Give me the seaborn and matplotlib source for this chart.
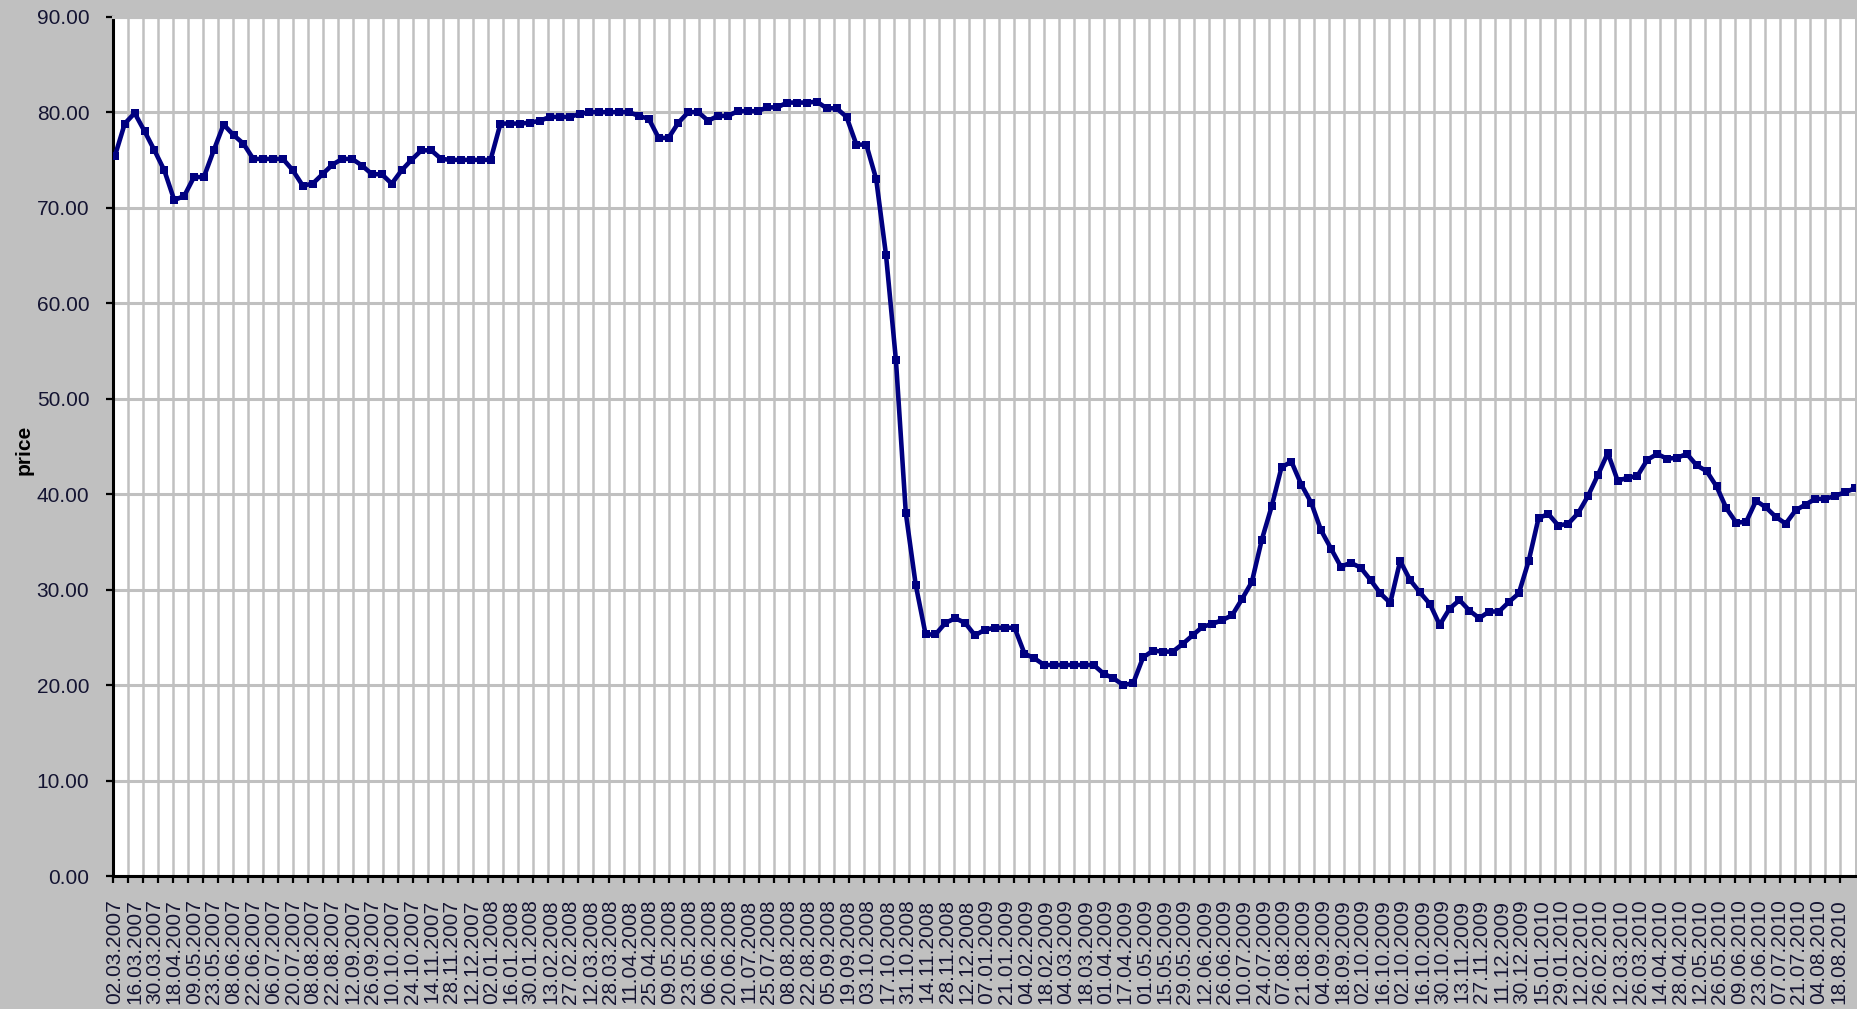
import numpy as np
import pandas as pd
import matplotlib
matplotlib.use("Agg")
import matplotlib.pyplot as plt
import seaborn as sns
from matplotlib.ticker import FixedLocator, FixedFormatter, FormatStrFormatter

# ---- category labels (shown every 2 samples) ----
date_labels = [
    "02.03.2007", "16.03.2007", "30.03.2007", "18.04.2007", "09.05.2007", "23.05.2007",
    "08.06.2007", "22.06.2007", "06.07.2007", "20.07.2007", "08.08.2007", "22.08.2007",
    "12.09.2007", "26.09.2007", "10.10.2007", "24.10.2007", "14.11.2007", "28.11.2007",
    "12.12.2007",
    "02.01.2008", "16.01.2008", "30.01.2008", "13.02.2008", "27.02.2008", "12.03.2008",
    "28.03.2008", "11.04.2008", "25.04.2008", "09.05.2008", "23.05.2008", "06.06.2008",
    "20.06.2008", "11.07.2008", "25.07.2008", "08.08.2008", "22.08.2008", "05.09.2008",
    "19.09.2008", "03.10.2008", "17.10.2008", "31.10.2008", "14.11.2008", "28.11.2008",
    "12.12.2008",
    "07.01.2009", "21.01.2009", "04.02.2009", "18.02.2009", "04.03.2009", "18.03.2009",
    "01.04.2009", "17.04.2009", "01.05.2009", "15.05.2009", "29.05.2009", "12.06.2009",
    "26.06.2009", "10.07.2009", "24.07.2009", "07.08.2009", "21.08.2009", "04.09.2009",
    "18.09.2009", "02.10.2009", "16.10.2009", "02.10.2009", "16.10.2009", "30.10.2009",
    "13.11.2009", "27.11.2009", "11.12.2009", "30.12.2009",
    "15.01.2010", "29.01.2010", "12.02.2010", "26.02.2010", "12.03.2010", "26.03.2010",
    "14.04.2010", "28.04.2010", "12.05.2010", "26.05.2010", "09.06.2010", "23.06.2010",
    "07.07.2010", "21.07.2010", "04.08.2010", "18.08.2010",
]

# ---- price series (two samples per label interval) ----
price = [
    75.4, 78.8, 79.9, 78.0, 76.0, 73.9, 70.8, 71.2, 73.2, 73.2,
    76.0, 78.7, 77.6, 76.7, 75.1, 75.1, 75.1, 75.1, 73.9, 72.3,
    72.5, 73.5, 74.5, 75.1, 75.1, 74.4, 73.5, 73.5, 72.5, 73.9,
    75.0, 76.0, 76.0, 75.1, 75.0, 75.0, 75.0, 75.0, 75.0, 78.8,
    78.8, 78.8, 78.9, 79.1, 79.5, 79.5, 79.5, 79.8, 80.0, 80.0,
    80.0, 80.0, 80.0, 79.6, 79.3, 77.3, 77.3, 78.9, 80.0, 80.0,
    79.1, 79.6, 79.6, 80.1, 80.1, 80.1, 80.5, 80.5, 81.0, 81.0,
    81.0, 81.1, 80.4, 80.4, 79.5, 76.6, 76.6, 73.0, 65.0, 54.0,
    38.0, 30.5, 25.3, 25.3, 26.5, 27.0, 26.5, 25.2, 25.8, 26.0,
    26.0, 26.0, 23.3, 22.8, 22.1, 22.1, 22.1, 22.1, 22.1, 22.1,
    21.2, 20.7, 20.0, 20.2, 22.9, 23.6, 23.5, 23.5, 24.3, 25.2,
    26.1, 26.4, 26.8, 27.3, 29.0, 30.8, 35.2, 38.7, 42.8, 43.4,
    41.0, 39.1, 36.2, 34.3, 32.4, 32.8, 32.3, 31.0, 29.6, 28.6,
    33.0, 31.0, 29.7, 28.5, 26.3, 28.0, 28.9, 27.8, 27.0, 27.7,
    27.7, 28.7, 29.6, 33.0, 37.5, 37.9, 36.7, 36.9, 38.0, 39.8,
    42.0, 44.3, 41.4, 41.7, 41.9, 43.6, 44.2, 43.7, 43.8, 44.2,
    43.0, 42.4, 40.8, 38.5, 37.0, 37.1, 39.3, 38.6, 37.6, 36.9,
    38.3, 38.9, 39.5, 39.5, 39.8, 40.2, 40.6,
]
samples_per_label = 2

y_ticks = [0, 10, 20, 30, 40, 50, 60, 70, 80, 90]

# ---- style ----
sns.set_theme(style="white")
plt.rcParams['font.family'] = ['Liberation Sans', 'DejaVu Sans']

bg = '#c0c0c0'
grid_c = '#c0c0c0'
line_c = '#000080'
text_c = '#141432'

fig = plt.figure(figsize=(18.57, 10.09), dpi=100, facecolor=bg)
ax = fig.add_axes([0.0608, 0.1318, 0.9381, 0.8517])
ax.set_facecolor('white')

df = pd.DataFrame({
    'pos': np.arange(len(price)) / samples_per_label,
    'price': price,
})
sns.lineplot(data=df, x='pos', y='price', ax=ax, color=line_c, linewidth=3.3,
             marker='s', markersize=5.4, markeredgewidth=0,
             markerfacecolor=line_c, zorder=5)

ax.set_xlim(-0.1, 88.0)
ax.set_ylim(0, 90)

# x axis: labels at category positions, tick marks/gridlines on a finer step
ax.xaxis.set_major_locator(FixedLocator(np.arange(len(date_labels)) * 1.002))
ax.xaxis.set_major_formatter(FixedFormatter(date_labels))
ax.xaxis.set_minor_locator(FixedLocator(np.arange(-0.1, 88.1, 0.7595)))
ax.tick_params(axis='x', which='major', length=0, pad=17, labelsize=15,
               labelrotation=90, labelcolor=text_c)
ax.tick_params(axis='x', which='minor', bottom=True, length=5, width=1.6,
               color='black', direction='out')

# y axis
ax.yaxis.set_major_locator(FixedLocator(y_ticks))
ax.yaxis.set_major_formatter(FormatStrFormatter('%.2f'))
ax.tick_params(axis='y', which='major', left=True, length=5, width=1.6,
               color='black', pad=12, labelsize=15, labelcolor=text_c)

ax.set_axisbelow(True)
ax.grid(False)
ax.grid(True, which='minor', axis='x', color=grid_c, linewidth=1.8)
ax.grid(True, which='major', axis='y', color=grid_c, linewidth=2.2)

for s in ['left', 'bottom']:
    ax.spines[s].set_color('black')
    ax.spines[s].set_linewidth(2.2)
ax.spines['right'].set_visible(False)
ax.spines['top'].set_color(grid_c)
ax.spines['top'].set_linewidth(2.2)

ax.set_xlabel('')
ax.set_ylabel('price', fontsize=15, fontweight='bold', color='black', va='center')
ax.yaxis.set_label_coords(-0.051, 0.496)

fig.savefig('out.png', dpi=100, facecolor=bg)
